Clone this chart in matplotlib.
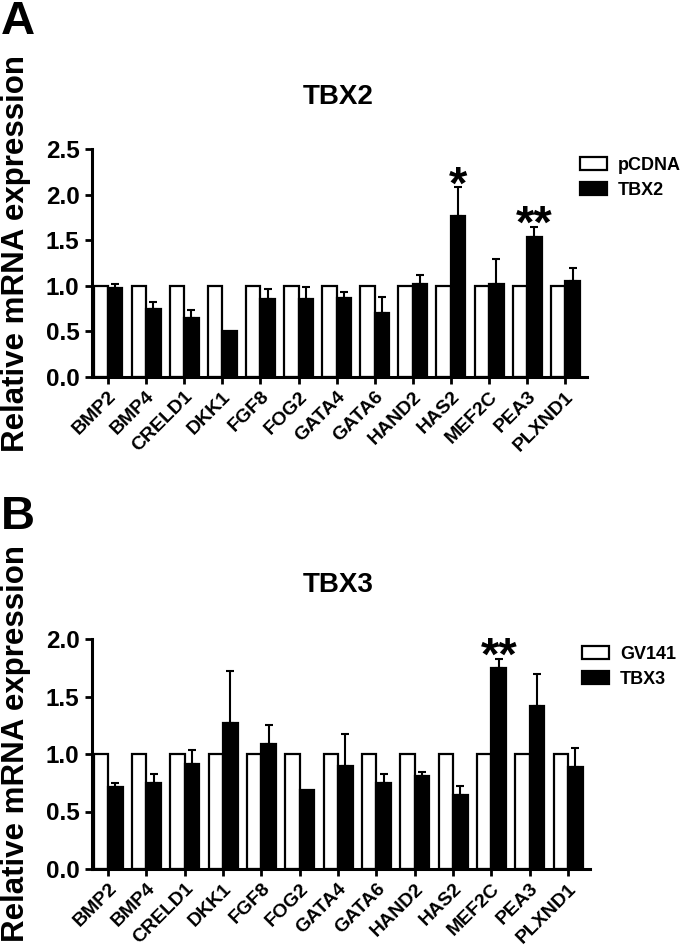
import numpy as np
import matplotlib
matplotlib.use("Agg")
import matplotlib.pyplot as plt

plt.rcParams['font.family'] = ['Liberation Sans', 'DejaVu Sans']
plt.rcParams['font.weight'] = 'bold'

# Gene names (x categories)
genes = ['BMP2', 'BMP4', 'CRELD1', 'DKK1', 'FGF8', 'FOG2', 'GATA4',
         'GATA6', 'HAND2', 'HAS2', 'MEF2C', 'PEA3', 'PLXND1']

# panel A: pCDNA vs TBX2
pcdna = [1.0] * 13
tbx2 = [0.98, 0.75, 0.65, 0.50, 0.85, 0.85, 0.87, 0.70, 1.02, 1.76, 1.02, 1.54, 1.055]
tbx2_err = [0.04, 0.07, 0.09, 0.0, 0.12, 0.14, 0.06, 0.175, 0.10, 0.32, 0.27, 0.11, 0.145]
tbx2_sig = {'HAS2': '*', 'PEA3': '**'}

# panel B: GV141 vs TBX3
gv141 = [1.0] * 13
tbx3 = [0.71, 0.745, 0.91, 1.27, 1.09, 0.69, 0.90, 0.745, 0.81, 0.645, 1.745, 1.42, 0.89]
tbx3_err = [0.04, 0.085, 0.125, 0.455, 0.165, 0.0, 0.27, 0.085, 0.03, 0.075, 0.085, 0.28, 0.16]
tbx3_sig = {'MEF2C': '**'}

W, H = 685, 951
fig = plt.figure(figsize=(W / 100, H / 100), dpi=100)


def panel(rect, ctrl, treat, err, sig, ymax, title, ctrl_name, treat_name,
          letter, letter_y, title_y, ylab_y, leg_xy):
    ax = fig.add_axes(rect)
    x = np.arange(len(genes))
    w = 0.38
    ax.bar(x, ctrl, width=-w, align='edge', color='white', edgecolor='black',
           linewidth=1.6, label=ctrl_name, zorder=2)
    ax.bar(x, treat, width=w, align='edge', color='black', edgecolor='black',
           linewidth=1.6, label=treat_name, zorder=2)
    err = np.array(err)
    treat = np.array(treat)
    m = err > 0
    ax.errorbar(x[m] + w / 2, treat[m], yerr=[np.zeros(m.sum()), err[m]],
                fmt='none', ecolor='black', elinewidth=1.5, capsize=3,
                capthick=1.5, zorder=1)
    for g, s in sig.items():
        i = genes.index(g)
        ax.annotate(s, (i + w / 2, treat[i] + err[i]), xytext=(0, -8),
                    textcoords='offset points', ha='center', va='baseline',
                    fontsize=34, fontweight='bold')
    ax.set_xlim(-0.42, 12.57)
    ax.set_ylim(0, ymax)
    ax.set_yticks(np.arange(0, ymax + 0.01, 0.5))
    ax.set_yticklabels(['%.1f' % v for v in np.arange(0, ymax + 0.01, 0.5)],
                       fontsize=17.5, fontweight='bold')
    ax.set_xticks(x)
    ax.set_xticklabels(genes, rotation=45, ha='right', rotation_mode='anchor',
                       fontsize=14, fontweight='bold')
    for s in ['top', 'right']:
        ax.spines[s].set_visible(False)
    for s in ['left', 'bottom']:
        ax.spines[s].set_linewidth(2.2)
    ax.tick_params(axis='both', direction='out', length=5, width=2, pad=4)
    ax.tick_params(axis='x', pad=3)
    ax.legend(loc='upper left', bbox_to_anchor=leg_xy, bbox_transform=fig.transFigure,
              frameon=False, borderpad=0, borderaxespad=0, handlelength=1.5,
              handleheight=0.75, handletextpad=0.6, labelspacing=0.45,
              prop={'size': 13, 'weight': 'bold'})
    fig.text(338 / W, 1 - title_y / H, title, ha='center', va='center',
             fontsize=20, fontweight='bold')
    fig.text(1 / W, 1 - letter_y / H, letter, ha='left', va='center',
             fontsize=34, fontweight='bold')
    fig.text(16 / W, 1 - ylab_y / H, 'Relative mRNA expression', rotation=90,
             ha='center', va='center', fontsize=22.5, fontweight='bold')
    return ax


panel([92 / W, 1 - 377 / H, 495 / W, 228 / H], pcdna, tbx2, tbx2_err, tbx2_sig,
      2.5, 'TBX2', 'pCDNA', 'TBX2', 'A', 22, 97, 253, (580 / W, 1 - 157 / H))
panel([92 / W, 1 - 869 / H, 498 / W, 230 / H], gv141, tbx3, tbx3_err, tbx3_sig,
      2.0, 'TBX3', 'GV141', 'TBX3', 'B', 517, 585, 744, (582 / W, 1 - 646 / H))

fig.savefig('out.png', dpi=100)
